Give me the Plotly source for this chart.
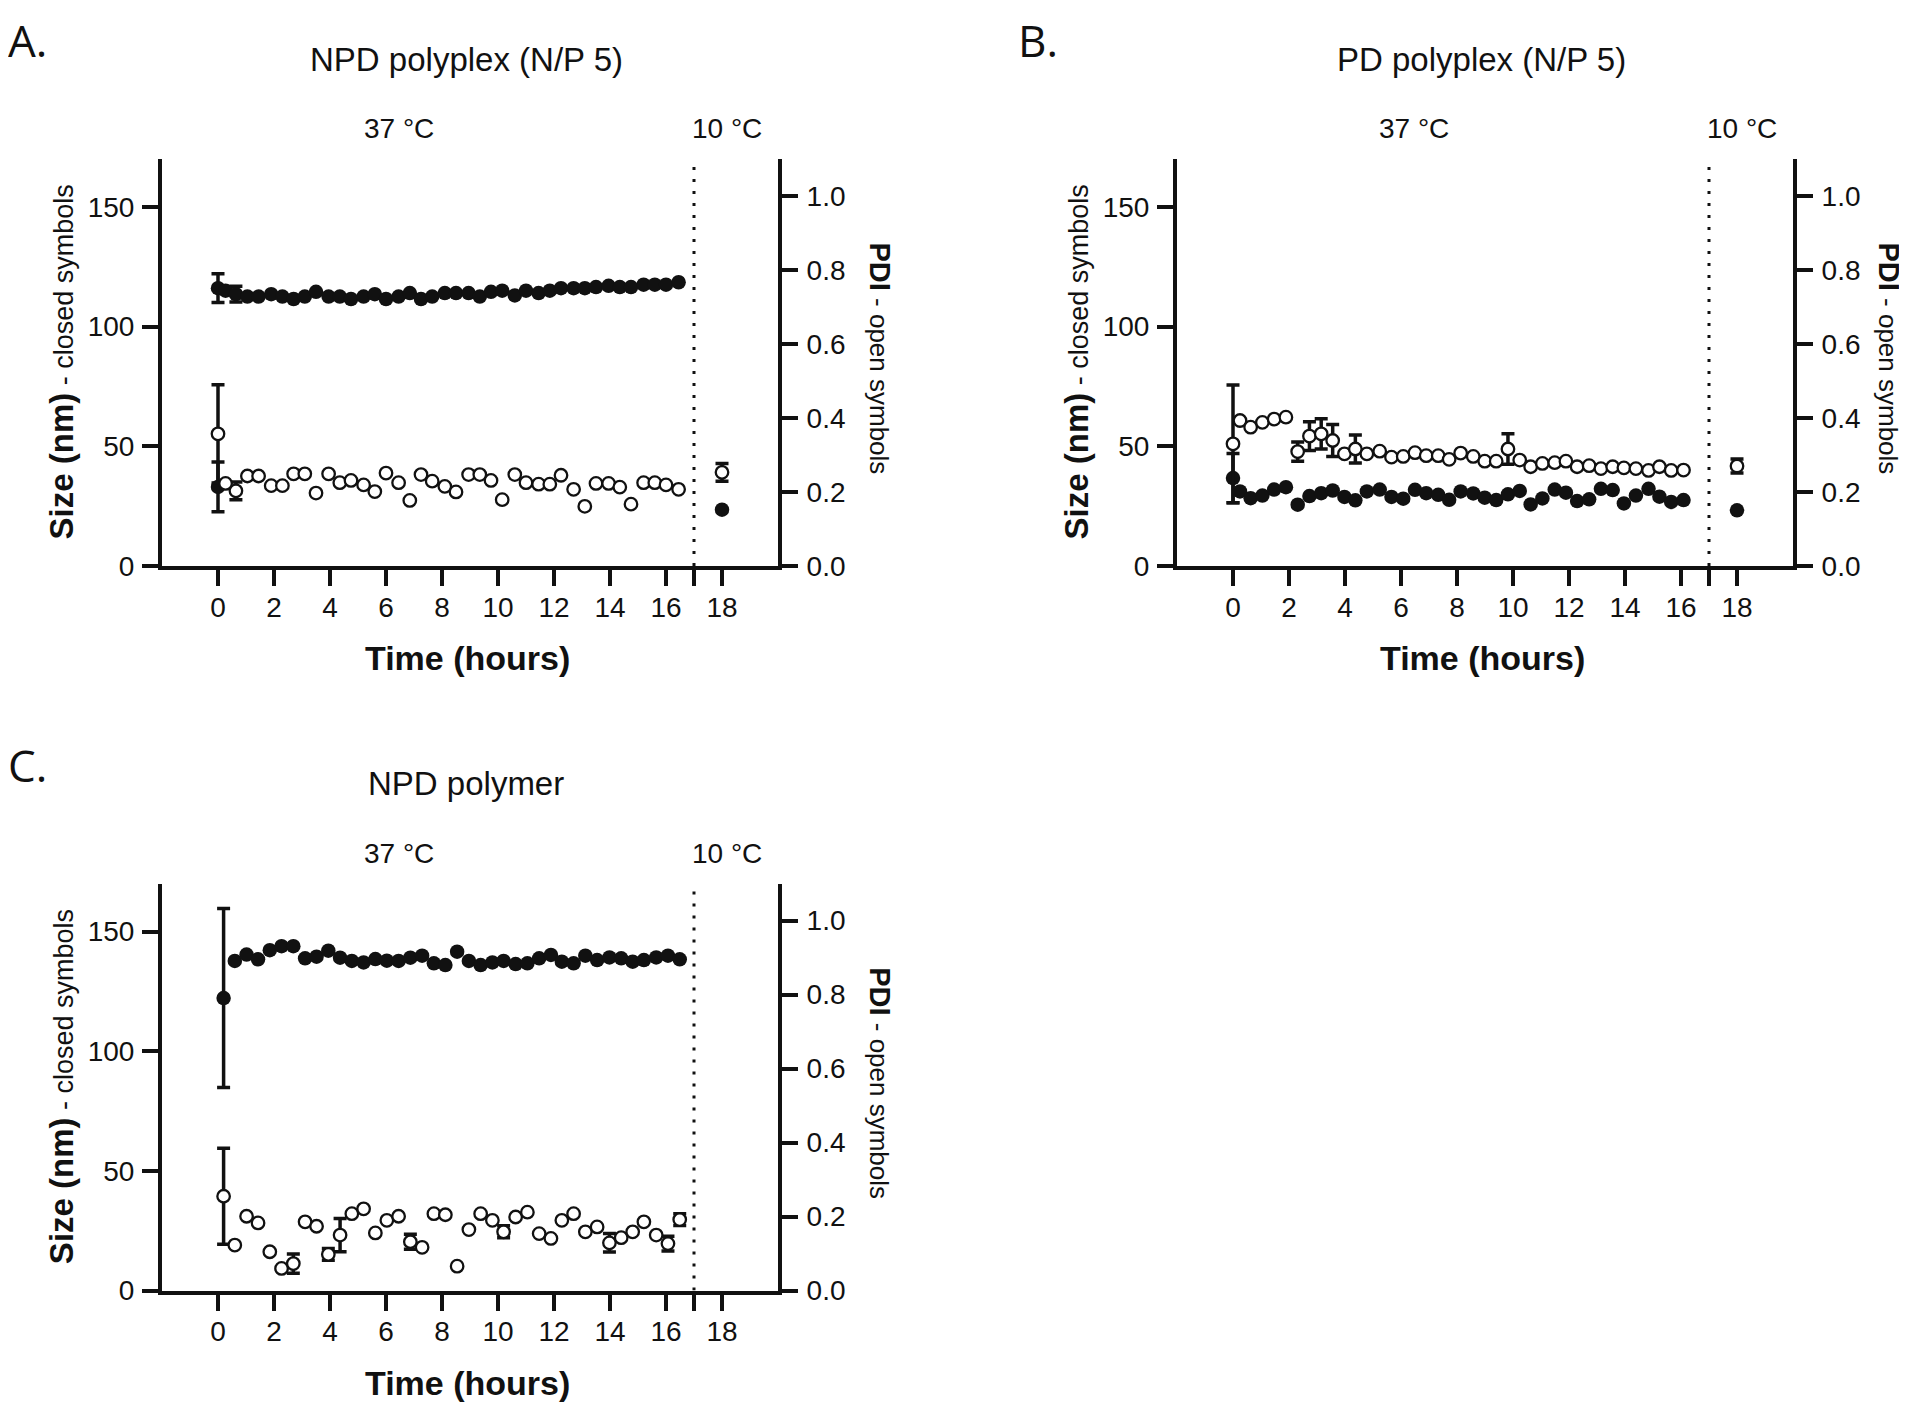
import plotly.graph_objects as go

W, H = 1907, 1412

# ---------------------------------------------------------------------------
# data
# ---------------------------------------------------------------------------

# A. NPD polyplex (N/P 5)
a_time = [0, 0.27, 0.64, 1.05, 1.45, 1.9, 2.3, 2.7, 3.1, 3.5, 3.95, 4.35,
          4.75, 5.2, 5.6, 6.0, 6.45, 6.85, 7.25, 7.65, 8.1, 8.5, 8.95, 9.35,
          9.75, 10.15, 10.6, 11.0, 11.45, 11.85, 12.25, 12.7, 13.1, 13.5,
          13.95, 14.35, 14.75, 15.2, 15.6, 16.0, 16.45]
a_size = [116, 115, 113.5, 112.5, 112.5, 113.5, 112.5, 111.5, 112.5, 114.5,
          112.5, 112.5, 111.5, 112.5, 113.5, 111.5, 112.5, 114, 111.5, 112.5,
          114, 114, 114, 112.5, 114.5, 115, 113, 115, 114, 115,
          116, 116, 116, 116.5, 117, 116.5, 116.5, 117.5, 117.5, 117.5, 118.5]
a_size_err = [6, None, 3.3] + [None] * 38
a_pdi = [0.357, 0.223, 0.203, 0.243, 0.243, 0.217, 0.217, 0.249, 0.249, 0.197,
         0.249, 0.225, 0.231, 0.219, 0.201, 0.251, 0.225, 0.177, 0.247, 0.229,
         0.215, 0.200, 0.247, 0.247, 0.231, 0.179, 0.247, 0.225, 0.221, 0.221,
         0.245, 0.207, 0.161, 0.223, 0.223, 0.213, 0.167, 0.225, 0.225, 0.219,
         0.207]
a_pdi_err = [0.133, None, 0.024] + [None] * 38
a_extra_time = [0]
a_extra_size = [33]
a_extra_err = [10.4]
a_cold_time = [18]
a_cold_size = [23.5]
a_cold_pdi = [0.253]
a_cold_pdi_err = [0.024]

# B. PD polyplex (N/P 5)
b_time = [0, 0.25, 0.63, 1.05, 1.47, 1.89, 2.31, 2.73, 3.15, 3.56, 3.98,
          4.37, 4.78, 5.24, 5.66, 6.08, 6.5, 6.9, 7.33, 7.72, 8.13, 8.58,
          8.99, 9.4, 9.82, 10.24, 10.63, 11.05, 11.49, 11.89, 12.29, 12.72,
          13.14, 13.56, 13.96, 14.39, 14.84, 15.23, 15.65, 16.09]
b_size = [36.7, 31.1, 28.3, 29.4, 31.9, 32.9, 25.6, 29.2, 30.4, 31.5,
          28.8, 27.4, 31.1, 31.9, 28.8, 28.1, 31.8, 30.4, 29.7, 27.6,
          31.1, 30.3, 28.5, 27.5, 29.9, 31.3, 25.7, 28.2, 31.9, 30.6,
          27.1, 27.8, 32.2, 31.7, 26.1, 29.4, 32.2, 28.9, 26.7, 27.5]
b_size_err = [10.3] + [None] * 39
b_pdi = [0.330, 0.393, 0.375, 0.388, 0.397, 0.402, 0.309, 0.351, 0.357, 0.339,
         0.303, 0.316, 0.303, 0.310, 0.294, 0.296, 0.306, 0.298, 0.298, 0.288,
         0.305, 0.296, 0.283, 0.283, 0.316, 0.286, 0.268, 0.277, 0.279, 0.283,
         0.268, 0.271, 0.263, 0.268, 0.265, 0.263, 0.258, 0.268, 0.258, 0.259]
b_pdi_err = [0.159, None, None, None, None, None, 0.026, 0.039, 0.041, 0.043,
             None, 0.038, None, None, None, None, None, None, None, None,
             None, None, None, None, 0.041, None, None, None, None, None,
             None, None, None, None, None, None, None, None, None, None]
b_cold_time = [18]
b_cold_size = [23.2]
b_cold_pdi = [0.270]
b_cold_pdi_err = [0.019]

# C. NPD polymer
c_time = [0.2, 0.6, 1.02, 1.43, 1.85, 2.27, 2.69, 3.11, 3.52, 3.94, 4.36,
          4.78, 5.2, 5.62, 6.03, 6.45, 6.87, 7.29, 7.71, 8.12, 8.54, 8.96,
          9.38, 9.8, 10.2, 10.63, 11.05, 11.47, 11.89, 12.28, 12.7, 13.12,
          13.54, 13.98, 14.4, 14.81, 15.21, 15.65, 16.07, 16.49]
c_size = [122.2, 137.7, 140.4, 138.4, 142.2, 143.9, 143.9, 138.8, 139.5, 142.0,
          139.1, 137.7, 137.1, 138.5, 137.8, 137.7, 139.1, 139.9, 136.7, 136.0,
          141.6, 137.7, 136.0, 137.1, 137.7, 136.4, 136.7, 138.8, 140.2, 137.4,
          136.7, 139.9, 138.1, 139.2, 138.8, 137.4, 138.1, 139.2, 139.9, 138.4]
c_size_err = [37.4] + [None] * 39
c_pdi = [0.255, 0.123, 0.201, 0.183, 0.105, 0.060, 0.073, 0.186, 0.174, 0.098,
         0.150, 0.208, 0.221, 0.156, 0.190, 0.201, 0.132, 0.117, 0.208, 0.205,
         0.066, 0.165, 0.208, 0.190, 0.159, 0.199, 0.212, 0.154, 0.141, 0.190,
         0.208, 0.159, 0.172, 0.129, 0.143, 0.159, 0.186, 0.150, 0.127, 0.192]
c_pdi_err = [0.130, None, None, None, None, None, 0.026, None, None, 0.016,
             0.045, None, None, None, None, None, 0.020, None, None, None,
             None, None, None, None, 0.016, None, None, None, None, None,
             None, None, None, 0.025, None, None, None, None, 0.020, 0.016]

x_ticks = [0, 2, 4, 6, 8, 10, 12, 14, 16, 17, 18]
x_ticktext = ['0', '2', '4', '6', '8', '10', '12', '14', '16', '', '18']
size_ticks = [0, 50, 100, 150]
pdi_ticks = [0.0, 0.2, 0.4, 0.6, 0.8, 1.0]

# ---------------------------------------------------------------------------
# layout helpers (pixel positions of the plot areas)
# ---------------------------------------------------------------------------
FONT = 'Liberation Sans, Arial, sans-serif'
BLACK = '#111111'


def px(x):
    return x / W


def py(y):
    return 1 - y / H


closed = dict(color=BLACK, size=14.5)
opened = dict(color='white', size=12.5, line=dict(color=BLACK, width=2.3))


def err(vals):
    return dict(type='data', array=vals, visible=True, color=BLACK,
                thickness=3.5, width=6.5)


panels = [
    dict(letter='A.', title='NPD polyplex (N/P 5)', left=154, top=152.7,
         letter_x=-2, letter_y=32, pdi_dx=102,
         time=a_time, size=a_size, size_err=a_size_err, pdi=a_pdi,
         pdi_err=a_pdi_err, extra=(a_extra_time, a_extra_size, a_extra_err),
         cold=(a_cold_time, a_cold_size, a_cold_pdi, a_cold_pdi_err)),
    dict(letter='B.', title='PD polyplex (N/P 5)', left=1169, top=152.7,
         letter_x=1008, letter_y=32, pdi_dx=96,
         time=b_time, size=b_size, size_err=b_size_err, pdi=b_pdi,
         pdi_err=b_pdi_err, extra=None,
         cold=(b_cold_time, b_cold_size, b_cold_pdi, b_cold_pdi_err)),
    dict(letter='C.', title='NPD polymer', left=154, top=885.7,
         letter_x=-2, letter_y=766, pdi_dx=102,
         time=c_time, size=c_size, size_err=c_size_err, pdi=c_pdi,
         pdi_err=c_pdi_err, extra=None, cold=None),
]

PW, PH = 616, 411.6

fig = go.Figure()
layout = dict(width=W, height=H, margin=dict(l=0, r=0, t=0, b=0),
              paper_bgcolor='white', plot_bgcolor='white', showlegend=False,
              font=dict(family=FONT, color=BLACK))
annotations = []
shapes = []

for i, p in enumerate(panels, start=1):
    xid = 'x' if i == 1 else f'x{i}'
    yl = 'y' if i == 1 else f'y{2 * i - 1}'
    yr = f'y{2 * i}'
    xkey = 'xaxis' if i == 1 else f'xaxis{i}'
    ylkey = 'yaxis' if i == 1 else f'yaxis{2 * i - 1}'
    yrkey = f'yaxis{2 * i}'

    l, t = p['left'], p['top']
    r, b = l + PW, t + PH
    tick = dict(ticks='outside', ticklen=16, tickwidth=4, tickcolor=BLACK,
                showline=True, linewidth=4, linecolor=BLACK, showgrid=False,
                zeroline=False, tickfont=dict(size=28, family=FONT, color=BLACK))
    layout[xkey] = dict(domain=[px(l), px(r)], anchor=yl, range=[-2, 20],
                        tickmode='array', tickvals=x_ticks, ticktext=x_ticktext,
                        ticklabelstandoff=-3, **tick)
    layout[ylkey] = dict(domain=[py(b), py(t)], anchor=xid, range=[0, 170],
                         tickmode='array', tickvals=size_ticks,
                         ticklabelstandoff=2, **tick)
    layout[yrkey] = dict(domain=[py(b), py(t)], anchor=xid, overlaying=yl,
                         side='right', range=[0, 1.1], tickmode='array',
                         tickvals=pdi_ticks, tickformat='.1f',
                         ticklabelstandoff=3, **tick)

    # closed symbols: size
    fig.add_trace(go.Scatter(x=p['time'], y=p['size'], mode='markers',
                             marker=closed, error_y=err(p['size_err']),
                             xaxis=xid, yaxis=yl))
    if p['extra']:
        et, es, ee = p['extra']
        fig.add_trace(go.Scatter(x=et, y=es, mode='markers', marker=closed,
                                 error_y=err(ee), xaxis=xid, yaxis=yl))
    if p['cold']:
        ct, cs, cp, cpe = p['cold']
        fig.add_trace(go.Scatter(x=ct, y=cs, mode='markers', marker=closed,
                                 xaxis=xid, yaxis=yl))
    # open symbols: PDI
    fig.add_trace(go.Scatter(x=p['time'], y=p['pdi'], mode='markers',
                             marker=opened, error_y=err(p['pdi_err']),
                             xaxis=xid, yaxis=yr))
    if p['cold']:
        fig.add_trace(go.Scatter(x=ct, y=cp, mode='markers', marker=opened,
                                 error_y=err(cpe), xaxis=xid, yaxis=yr))

    # dotted separator between 37 °C and 10 °C
    shapes.append(dict(type='line', xref=xid, yref=yl, x0=17, x1=17, y0=0,
                       y1=170, line=dict(color=BLACK, width=3,
                                         dash='3px,9px')))

    cx = (l + r) / 2
    cy = (t + b) / 2
    ann = [
        dict(text=p['letter'], x=px(p['letter_x']), y=py(p['letter_y']),
             xanchor='left', font=dict(size=44, family='Open Sans, sans-serif')),
        dict(text=p['title'], x=px(cx - 4), y=py(t - 101), font=dict(size=33)),
        dict(text='37 °C', x=px(l + 237), y=py(t - 31), font=dict(size=28)),
        dict(text='10 °C', x=px(l + 565), y=py(t - 31), font=dict(size=28)),
        dict(text='<b>Time (hours)</b>', x=px(cx - 3), y=py(b + 93),
             font=dict(size=34)),
        dict(text="<b>Size (nm)</b><span style='font-size:27px'>"
                  " - closed symbols</span>",
             x=px(l - 101), y=py(cy), textangle=-90, font=dict(size=33)),
        dict(text="<b>PDI</b><span style='font-size:26px'>"
                  " - open symbols</span>",
             x=px(r + p['pdi_dx']), y=py(cy - 4), textangle=90,
             font=dict(size=29)),
    ]
    for a in ann:
        a.setdefault('xanchor', 'center')
        a.update(xref='paper', yref='paper', showarrow=False,
                 yanchor='middle')
        a['font'].setdefault('family', FONT)
        a['font']['color'] = BLACK
    annotations.extend(ann)

layout['annotations'] = annotations
layout['shapes'] = shapes
fig.update_layout(**layout)

fig.write_html("out.html")
